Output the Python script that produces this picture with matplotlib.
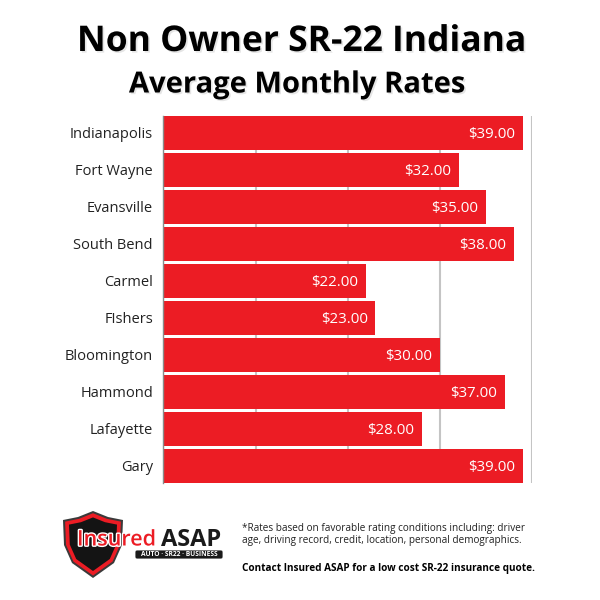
import numpy as np
import matplotlib.pyplot as plt
import matplotlib.patheffects as pe
from matplotlib.patches import Polygon, FancyBboxPatch

# data
cities = ['Indianapolis', 'Fort Wayne', 'Evansville', 'South Bend', 'Carmel',
          'FIshers', 'Bloomington', 'Hammond', 'Lafayette', 'Gary']
rates = [39, 32, 35, 38, 22, 23, 30, 37, 28, 39]
grid_ticks = [0, 10, 20, 30, 40]

RED = '#ec1c24'
FONT = 'Open Sans'

fig = plt.figure(figsize=(6, 6), dpi=100)
fig.patch.set_facecolor('white')

# overlay in pixel units for titles, logo and notes
deco = fig.add_axes([0, 0, 1, 1])
deco.set_xlim(0, 600)
deco.set_ylim(600, 0)
deco.axis('off')

shadow = [pe.SimplePatchShadow(offset=(1.2, -1.2), alpha=0.2, shadow_rgbFace='gray'), pe.Normal()]
deco.text(301, 42, 'Non Owner SR-22 Indiana', ha='center', va='center', fontsize=25.5,
          fontweight='bold', family=FONT, color='black', path_effects=shadow)
deco.text(297, 85, 'Average Monthly Rates', ha='center', va='center', fontsize=21,
          fontweight='bold', family=FONT, color='black', path_effects=shadow)

# main chart
ax = fig.add_axes([163.3 / 600, 1 - 483 / 600, 369 / 600, 367.3 / 600])
y = np.arange(len(cities))
ax.barh(y, rates, height=0.92, color=RED, zorder=3)
for yi, v in zip(y, rates):
    ax.text(v - 0.85, yi, f'${v:.2f}', ha='right', va='center_baseline', color='white',
            fontsize=10.8, family=FONT, zorder=4)

ax.set_xlim(0, 40)
ax.set_ylim(len(cities) - 1 + 0.46, -0.46)
ax.set_xticks(grid_ticks)
ax.set_xticklabels([])
ax.xaxis.grid(True, color='#c4c4c4', lw=1.5, zorder=0)
ax.set_yticks(y)
ax.set_yticklabels(cities, fontsize=10.5, family=FONT, color='#222222')
ax.tick_params(axis='both', length=0, pad=7.5)
for s in ['top', 'right', 'bottom']:
    ax.spines[s].set_visible(False)
ax.spines['left'].set_color('#8a8a8a')
ax.spines['left'].set_linewidth(1)
ax.spines['left'].set_zorder(5)

# logo
shield = np.array([(93, 511), (108, 517), (123, 520), (122, 545), (114, 563),
                   (93, 578), (72, 563), (64, 545), (63, 520), (78, 517)], dtype=float)
c = np.array([93, 543])
for scale, col in [(1.0, '#3a3a3a'), (0.93, RED), (0.80, '#141414')]:
    deco.add_patch(Polygon(c + (shield - c) * scale, closed=True, facecolor=col,
                           edgecolor='none', joinstyle='round'))
white_edge = [pe.withStroke(linewidth=2, foreground='white')]
deco.text(77, 540, 'Insured', ha='left', va='center', fontsize=15.5, color=RED,
          family=FONT, fontweight='semibold', path_effects=white_edge)
deco.text(161, 540, 'ASAP', ha='left', va='center', fontsize=17, color='#1a1a1a',
          family=FONT, fontweight='bold')
deco.add_patch(FancyBboxPatch((135, 550), 88, 9, boxstyle='round,pad=0,rounding_size=2',
                              facecolor='#1a1a1a', edgecolor='white', lw=0.6))
deco.text(179, 554.8, 'AUTO · SR22 · BUSINESS', ha='center', va='center', fontsize=4.8,
          color='white', family=FONT, fontweight='bold')

# notes
deco.text(242, 528, '*Rates based on favorable rating conditions including: driver',
          ha='left', va='center', fontsize=7.2, family=FONT, color='#222222')
deco.text(242, 541, 'age, driving record, credit, location, personal demographics.',
          ha='left', va='center', fontsize=7.2, family=FONT, color='#222222')
deco.text(242, 568, 'Contact Insured ASAP for a low cost SR-22 insurance quote.',
          ha='left', va='center', fontsize=7.2, family=FONT, color='black', fontweight='bold')

fig.savefig('out.png', dpi=100, facecolor='white')
